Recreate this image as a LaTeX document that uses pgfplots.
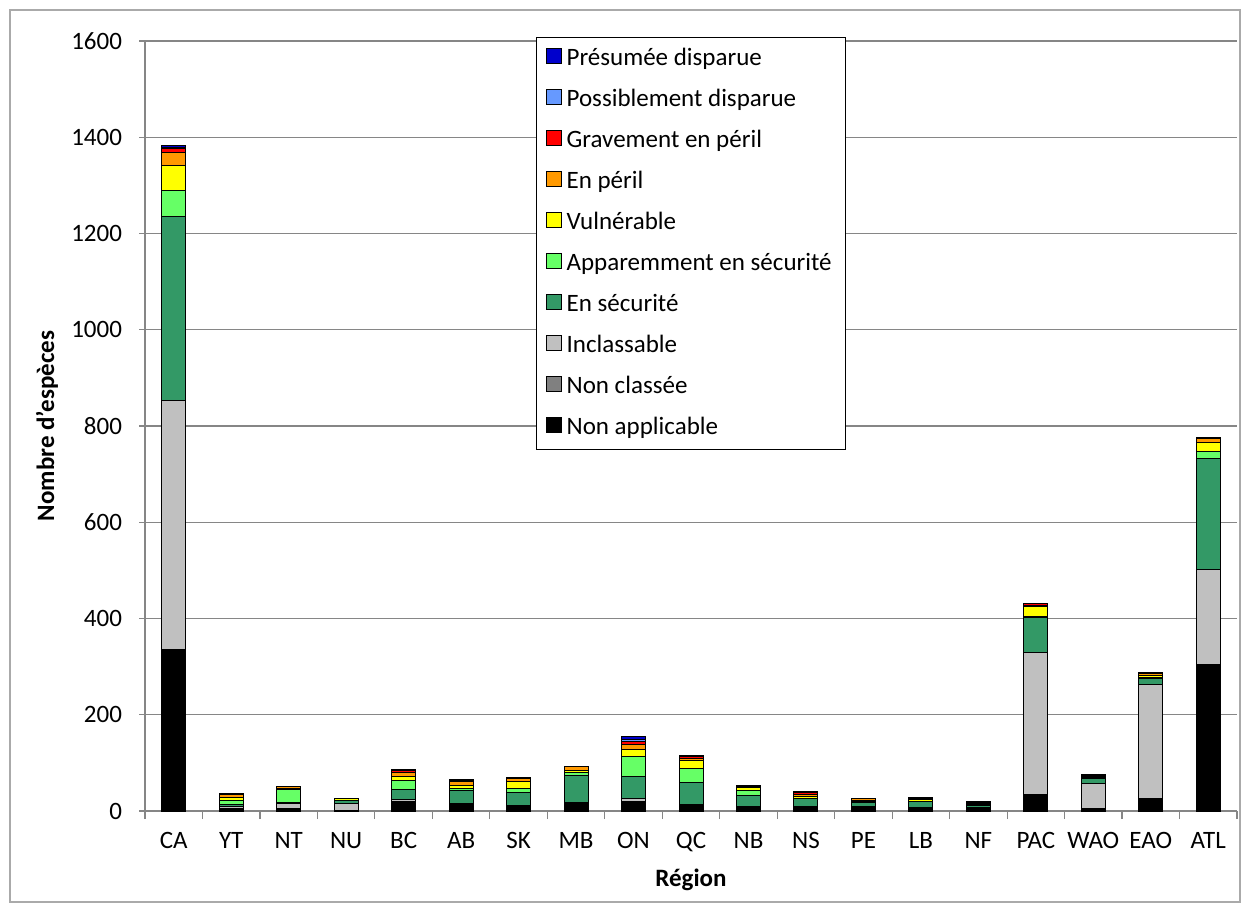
\documentclass[border=0pt]{standalone}
\usepackage{fontspec}
\setmainfont{Carlito}
\usepackage{pgfplots}
\pgfplotsset{compat=1.18}
\usepackage{pgfplotstable}

\definecolor{cPres}{RGB}{0,0,204}
\definecolor{cPoss}{RGB}{102,153,255}
\definecolor{cGrav}{RGB}{255,0,0}
\definecolor{cEnP}{RGB}{255,153,0}
\definecolor{cVuln}{RGB}{255,255,0}
\definecolor{cApp}{RGB}{102,255,102}
\definecolor{cSec}{RGB}{51,153,102}
\definecolor{cIncl}{RGB}{192,192,192}
\definecolor{cNC}{RGB}{128,128,128}
\definecolor{cNA}{RGB}{0,0,0}
\definecolor{gridc}{RGB}{134,134,134}

\pgfplotstableread{
x NA NC Incl Sec App Vuln EnP Grav Poss Pres
0 333 2 519 381 54 53 26 8 2 4
1 3 2 5 3 9 7 5 1 0 1
2 4 1 10 2 28 2 3 1 0 0
3 1 0 14 6 1 5 0 0 0 0
4 18 2 3 21 19 9 9 3 1 1
5 12 1 3 26 4 6 10 2 1 0
6 11 0 1 26 8 16 6 1 0 1
7 17 1 0 56 7 4 7 1 0 0
8 19 1 7 45 42 13 12 6 4 5
9 12 0 2 45 29 16 6 4 1 1
10 9 0 0 24 9 6 3 1 0 0
11 9 0 1 15 2 4 4 3 1 1
12 9 0 0 9 1 2 4 1 0 0
13 8 0 0 11 1 4 3 1 0 0
14 8 0 0 4 1 3 2 1 0 0
15 35 0 295 73 2 20 3 4 0 0
16 4 1 53 9 3 2 2 1 0 0
17 25 0 237 14 2 3 4 2 0 0
18 305 0 196 232 14 18 9 2 0 0
}\data

\begin{document}
\begin{tikzpicture}
\useasboundingbox (-72.5pt,-50.5pt) rectangle (550.5pt,405.5pt);
\draw[gridc!70, line width=0.6pt] (-67.5pt,-45.5pt) rectangle (547.5pt,400.5pt);
\begin{axis}[
  at={(0,0)}, anchor=south west,
  width=546pt, height=385pt, scale only axis,
  ybar stacked, bar width=12pt,
  xmin=-0.5, xmax=18.5, ymin=0, ymax=1600,
  xtick={0,...,18},
  xticklabels={CA,YT,NT,NU,BC,AB,SK,MB,ON,QC,NB,NS,PE,LB,NF,PAC,WAO,EAO,ATL},
  minor xtick={-0.5,0.5,...,18.5},
  ytick={0,200,...,1600},
  ymajorgrids, grid style={gridc, line width=0.6pt},
  axis lines*=left, axis line style={gridc, line width=0.6pt},
  tick align=outside,
  major tick length=3pt, minor tick length=4pt,
  major x tick style={draw=none},
  minor x tick style={gridc, line width=0.6pt},
  ytick style={gridc, line width=0.6pt},
  tick label style={font=\fontsize{12.5}{15}\selectfont, black},
  xticklabel style={yshift=-4pt},
  yticklabel style={xshift=-5pt, /pgf/number format/1000 sep={}},
  /pgf/number format/assume math mode=true,
  xlabel={Région}, ylabel={Nombre d'espèces},
  every axis x label/.style={at={(axis description cs:0.5,0)}, anchor=center, yshift=-34.5pt,
     font=\bfseries\fontsize{12.5}{15}\selectfont},
  every axis y label/.style={at={(axis description cs:0,0.5)}, anchor=center, rotate=90, yshift=49pt,
     font=\bfseries\fontsize{12.5}{15}\selectfont},
  reverse legend,
  legend cell align=left,
  legend image code/.code={\draw[#1,draw=black,line width=0.5pt] (0pt,-2pt) rectangle (7.5pt,5.5pt);},
  legend style={at={(axis description cs:0.3581,1.0052)}, anchor=north west,
    draw=black, line width=0.6pt, fill=white,
    font=\fontsize{12.5}{15}\selectfont,
    inner xsep=4.5pt, inner ysep=4.8pt, row sep=8.5pt,
    nodes={text height=9pt, text depth=3pt, inner ysep=0pt, inner xsep=2.5pt}},
  every axis plot/.append style={draw=black, line width=0.5pt},
]
\addplot[fill=cNA] table[x=x,y=NA]{\data};
\addlegendentry{Non applicable}
\addplot[fill=cNC] table[x=x,y=NC]{\data};
\addlegendentry{Non classée}
\addplot[fill=cIncl] table[x=x,y=Incl]{\data};
\addlegendentry{Inclassable}
\addplot[fill=cSec] table[x=x,y=Sec]{\data};
\addlegendentry{En sécurité}
\addplot[fill=cApp] table[x=x,y=App]{\data};
\addlegendentry{Apparemment en sécurité}
\addplot[fill=cVuln] table[x=x,y=Vuln]{\data};
\addlegendentry{Vulnérable}
\addplot[fill=cEnP] table[x=x,y=EnP]{\data};
\addlegendentry{En péril}
\addplot[fill=cGrav] table[x=x,y=Grav]{\data};
\addlegendentry{Gravement en péril}
\addplot[fill=cPoss] table[x=x,y=Poss]{\data};
\addlegendentry{Possiblement disparue}
\addplot[fill=cPres] table[x=x,y=Pres]{\data};
\addlegendentry{Présumée disparue}
\end{axis}
\end{tikzpicture}
\end{document}
